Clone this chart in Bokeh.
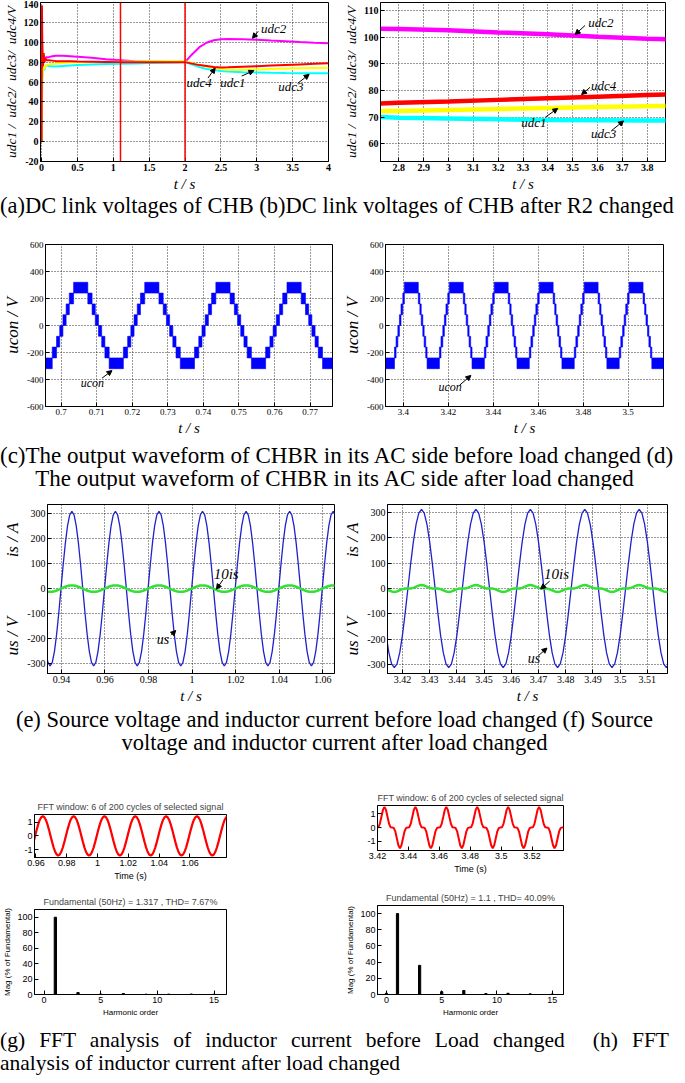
import numpy as np
from bokeh.plotting import figure
from bokeh.models import (Range1d, FixedTicker, CustomJSTickFormatter, Span, Label,
                          Arrow, NormalHead, Div, Spacer)
from bokeh.layouts import column, row
from bokeh.embed import file_html
from bokeh.resources import INLINE

# ---------------- data ----------------
# (a)/(b) DC link voltages
t_dc = [0, 0.005, 0.01, 0.02, 0.03, 0.04, 0.05, 0.07, 0.1, 0.15, 0.2, 0.3, 0.4, 0.5, 0.7, 0.9,
        1.1, 1.3, 1.5, 1.7, 1.9, 2.0, 2.1, 2.2, 2.3, 2.4, 2.5, 2.6, 2.8, 3.0, 3.2, 3.4, 3.6, 3.8, 4.0]
udc1 = [0, 40, 66, 72, 75, 73, 76, 77, 77.5, 78, 78.5, 79, 79.5, 79.8, 80, 80.2,
        80.5, 80.7, 80.9, 81, 81, 81, 79, 77, 75.5, 74, 73, 72.4, 72.3, 72.7, 73.1, 73.5, 73.8, 74.1, 74.4]
udc2 = [0, 60, 78, 80, 83, 80, 84, 85, 85, 86, 86.5, 86.5, 86, 85.5, 84.5, 83,
        82, 81, 80.5, 80.3, 80.2, 80, 88, 95, 99.5, 102, 103, 103.3, 103.1, 102.6, 101.8, 101.1, 100.2, 99.4, 98.9]
udc3 = [0, 40, 64, 70, 73, 72, 75, 77, 76, 75.5, 75.5, 76, 76.5, 77, 77.5, 78,
        78.3, 78.6, 79, 79.3, 79.6, 80, 77.5, 75, 73, 72, 71, 70.5, 69.8, 69.5, 69.2, 69.0, 68.9, 68.8, 68.7]
udc4 = [0, 137, 100, 76, 89, 80, 84, 82, 82, 81.5, 81, 81, 80.8, 80.6, 80.4, 80.2,
        80, 80, 80, 80, 80, 80, 78.5, 77, 76, 75, 74.6, 74.8, 75.4, 75.9, 76.5, 77.1, 77.7, 78.3, 78.8]
event_times = [1.1, 2.0]

# (c)/(d) CHBR AC-side voltage: staircase band (lower level of each band, band = one cell voltage)
cell_v = 80
c_edges = [0.6935, 0.6975, 0.6987, 0.6996,
           0.7005, 0.7014, 0.7023, 0.7035, 0.7075, 0.7087, 0.7096, 0.7105, 0.7114, 0.7123, 0.7135, 0.7175, 0.7187, 0.7196,
           0.7205, 0.7214, 0.7223, 0.7235, 0.7275, 0.7287, 0.7296, 0.7305, 0.7314, 0.7323, 0.7335, 0.7375, 0.7387, 0.7396,
           0.7405, 0.7414, 0.7423, 0.7435, 0.7475, 0.7487, 0.7496, 0.7505, 0.7514, 0.7523, 0.7535, 0.7575, 0.7587, 0.7596,
           0.7605, 0.7614, 0.7623, 0.7635, 0.7675, 0.7687, 0.7696, 0.7705, 0.7714, 0.7723, 0.7735, 0.7775]
c_levels = [-320, -240, -160, -80,
            0, 80, 160, 240, 160, 80, 0, -80, -160, -240, -320, -240, -160, -80,
            0, 80, 160, 240, 160, 80, 0, -80, -160, -240, -320, -240, -160, -80,
            0, 80, 160, 240, 160, 80, 0, -80, -160, -240, -320, -240, -160, -80,
            0, 80, 160, 240, 160, 80, 0, -80, -160, -240, -320]
d_edges = [3.3905,
           3.3960, 3.3967, 3.3975, 3.3982, 3.3989, 3.3997, 3.4004, 3.4066, 3.4073, 3.4079, 3.4086, 3.4092, 3.4099, 3.4105,
           3.4160, 3.4167, 3.4175, 3.4182, 3.4189, 3.4197, 3.4204, 3.4266, 3.4273, 3.4279, 3.4286, 3.4292, 3.4299, 3.4305,
           3.4360, 3.4367, 3.4375, 3.4382, 3.4389, 3.4397, 3.4404, 3.4466, 3.4473, 3.4479, 3.4486, 3.4492, 3.4499, 3.4505,
           3.4560, 3.4567, 3.4575, 3.4582, 3.4589, 3.4597, 3.4604, 3.4666, 3.4673, 3.4679, 3.4686, 3.4692, 3.4699, 3.4705,
           3.4760, 3.4767, 3.4775, 3.4782, 3.4789, 3.4797, 3.4804, 3.4866, 3.4873, 3.4879, 3.4886, 3.4892, 3.4899, 3.4905,
           3.4960, 3.4967, 3.4975, 3.4982, 3.4989, 3.4997, 3.5004, 3.5066, 3.5073, 3.5079, 3.5086, 3.5092, 3.5099, 3.5105,
           3.5160]
d_levels = [-320,
            -240, -160, -80, 0, 80, 160, 240, 160, 80, 0, -80, -160, -240, -320,
            -240, -160, -80, 0, 80, 160, 240, 160, 80, 0, -80, -160, -240, -320,
            -240, -160, -80, 0, 80, 160, 240, 160, 80, 0, -80, -160, -240, -320,
            -240, -160, -80, 0, 80, 160, 240, 160, 80, 0, -80, -160, -240, -320,
            -240, -160, -80, 0, 80, 160, 240, 160, 80, 0, -80, -160, -240, -320,
            -240, -160, -80, 0, 80, 160, 240, 160, 80, 0, -80, -160, -240, -320]

# (e)/(f) source voltage and 10x inductor current, sampled every 1 ms
sample_dt = 0.001
e_t0 = 0.9328
f_t0 = 3.4140
us_e = [-252, -296, -311, -296, -252, -183, -96, 0, 96, 183, 252, 296, 311, 296, 252, 183, 96, 0, -96, -183,
        -252, -296, -311, -296, -252, -183, -96, 0, 96, 183, 252, 296, 311, 296, 252, 183, 96, 0, -96, -183,
        -252, -296, -311, -296, -252, -183, -96, 0, 96, 183, 252, 296, 311, 296, 252, 183, 96, 0, -96, -183,
        -252, -296, -311, -296, -252, -183, -96, 0, 96, 183, 252, 296, 311, 296, 252, 183, 96, 0, -96, -183,
        -252, -296, -311, -296, -252, -183, -96, 0, 96, 183, 252, 296, 311, 296, 252, 183, 96, 0, -96, -183,
        -252, -296, -311, -296, -252, -183, -96, 0, 96, 183, 252, 296, 311, 296, 252, 183, 96, 0, -96, -183,
        -252, -296, -311, -296, -252, -183, -96, 0, 96, 183, 252, 296, 311, 296]
is10_e = [-10.5, -12.4, -13, -12.4, -10.5, -7.6, -4, 0, 4, 7.6, 10.5, 12.4, 13, 12.4, 10.5, 7.6, 4, 0, -4, -7.6,
          -10.5, -12.4, -13, -12.4, -10.5, -7.6, -4, 0, 4, 7.6, 10.5, 12.4, 13, 12.4, 10.5, 7.6, 4, 0, -4, -7.6,
          -10.5, -12.4, -13, -12.4, -10.5, -7.6, -4, 0, 4, 7.6, 10.5, 12.4, 13, 12.4, 10.5, 7.6, 4, 0, -4, -7.6,
          -10.5, -12.4, -13, -12.4, -10.5, -7.6, -4, 0, 4, 7.6, 10.5, 12.4, 13, 12.4, 10.5, 7.6, 4, 0, -4, -7.6,
          -10.5, -12.4, -13, -12.4, -10.5, -7.6, -4, 0, 4, 7.6, 10.5, 12.4, 13, 12.4, 10.5, 7.6, 4, 0, -4, -7.6,
          -10.5, -12.4, -13, -12.4, -10.5, -7.6, -4, 0, 4, 7.6, 10.5, 12.4, 13, 12.4, 10.5, 7.6, 4, 0, -4, -7.6,
          -10.5, -12.4, -13, -12.4, -10.5, -7.6, -4, 0, 4, 7.6, 10.5, 12.4, 13, 12.4]
us_f = [-183, -252, -296, -311, -296, -252, -183, -96, 0, 96, 183, 252, 296, 311, 296, 252, 183, 96, 0, -96,
        -183, -252, -296, -311, -296, -252, -183, -96, 0, 96, 183, 252, 296, 311, 296, 252, 183, 96, 0, -96,
        -183, -252, -296, -311, -296, -252, -183, -96, 0, 96, 183, 252, 296, 311, 296, 252, 183, 96, 0, -96,
        -183, -252, -296, -311, -296, -252, -183, -96, 0, 96, 183, 252, 296, 311, 296, 252, 183, 96, 0, -96,
        -183, -252, -296, -311, -296, -252, -183, -96, 0, 96, 183, 252, 296, 311, 296, 252, 183, 96, 0, -96,
        -183, -252, -296, -311, -296]
is10_f = [-2.5, -7, -11.6, -13.6, -11.6, -7, -2.5, -0.2, 0, 0.2, 2.5, 7, 11.6, 13.6, 11.6, 7, 2.5, 0.2, 0, -0.2,
          -2.5, -7, -11.6, -13.6, -11.6, -7, -2.5, -0.2, 0, 0.2, 2.5, 7, 11.6, 13.6, 11.6, 7, 2.5, 0.2, 0, -0.2,
          -2.5, -7, -11.6, -13.6, -11.6, -7, -2.5, -0.2, 0, 0.2, 2.5, 7, 11.6, 13.6, 11.6, 7, 2.5, 0.2, 0, -0.2,
          -2.5, -7, -11.6, -13.6, -11.6, -7, -2.5, -0.2, 0, 0.2, 2.5, 7, 11.6, 13.6, 11.6, 7, 2.5, 0.2, 0, -0.2,
          -2.5, -7, -11.6, -13.6, -11.6, -7, -2.5, -0.2, 0, 0.2, 2.5, 7, 11.6, 13.6, 11.6, 7, 2.5, 0.2, 0, -0.2,
          -2.5, -7, -11.6, -13.6, -11.6]

# (g)/(h) FFT window signals and harmonic spectra
g_t0 = 0.9585
h_t0 = 3.4185
i_g = [-0.44, 0, 0.44, 0.84, 1.16, 1.36, 1.43, 1.36, 1.16, 0.84, 0.44, 0, -0.44, -0.84, -1.16, -1.36, -1.43, -1.36, -1.16, -0.84,
       -0.44, 0, 0.44, 0.84, 1.16, 1.36, 1.43, 1.36, 1.16, 0.84, 0.44, 0, -0.44, -0.84, -1.16, -1.36, -1.43, -1.36, -1.16, -0.84,
       -0.44, 0, 0.44, 0.84, 1.16, 1.36, 1.43, 1.36, 1.16, 0.84, 0.44, 0, -0.44, -0.84, -1.16, -1.36, -1.43, -1.36, -1.16, -0.84,
       -0.44, 0, 0.44, 0.84, 1.16, 1.36, 1.43, 1.36, 1.16, 0.84, 0.44, 0, -0.44, -0.84, -1.16, -1.36, -1.43, -1.36, -1.16, -0.84,
       -0.44, 0, 0.44, 0.84, 1.16, 1.36, 1.43, 1.36, 1.16, 0.84, 0.44, 0, -0.44, -0.84, -1.16, -1.36, -1.43, -1.36, -1.16, -0.84,
       -0.44, 0, 0.44, 0.84, 1.16, 1.36, 1.43, 1.36, 1.16, 0.84, 0.44, 0, -0.44, -0.84, -1.16, -1.36, -1.43, -1.36, -1.16, -0.84,
       -0.44, 0, 0.44, 0.84, 1.16, 1.36, 1.43]
i_h = [-0.02, 0, 0.02, 0.27, 0.77, 1.28, 1.5, 1.28, 0.77, 0.27, 0.02, 0, -0.02, -0.27, -0.77, -1.28, -1.5, -1.28, -0.77, -0.27,
       -0.02, 0, 0.02, 0.27, 0.77, 1.28, 1.5, 1.28, 0.77, 0.27, 0.02, 0, -0.02, -0.27, -0.77, -1.28, -1.5, -1.28, -0.77, -0.27,
       -0.02, 0, 0.02, 0.27, 0.77, 1.28, 1.5, 1.28, 0.77, 0.27, 0.02, 0, -0.02, -0.27, -0.77, -1.28, -1.5, -1.28, -0.77, -0.27,
       -0.02, 0, 0.02, 0.27, 0.77, 1.28, 1.5, 1.28, 0.77, 0.27, 0.02, 0, -0.02, -0.27, -0.77, -1.28, -1.5, -1.28, -0.77, -0.27,
       -0.02, 0, 0.02, 0.27, 0.77, 1.28, 1.5, 1.28, 0.77, 0.27, 0.02, 0, -0.02, -0.27, -0.77, -1.28, -1.5, -1.28, -0.77, -0.27,
       -0.02, 0, 0.02, 0.27, 0.77, 1.28, 1.5, 1.28, 0.77, 0.27, 0.02, 0, -0.02, -0.27, -0.77, -1.28, -1.5, -1.28, -0.77, -0.27,
       -0.02, 0, 0.02]
g_order = [1, 3, 5, 7, 9, 11, 13, 15]
g_mag = [100, 2.5, 0.6, 1.2, 0.4, 0.5, 0.6, 0.3]
h_order = [0, 1, 3, 5, 7, 9, 11, 13, 15]
h_mag = [1.5, 100, 36, 3.5, 5, 1.2, 1.5, 0.8, 0.6]

# tick labels
a_xt = [0, 0.5, 1, 1.5, 2, 2.5, 3, 3.5, 4]
a_yt = [-20, 0, 20, 40, 60, 80, 100, 120, 140]
b_xt = [2.8, 2.9, 3, 3.1, 3.2, 3.3, 3.4, 3.5, 3.6, 3.7, 3.8]
b_yt = [60, 70, 80, 90, 100, 110]
c_xt = [0.7, 0.71, 0.72, 0.73, 0.74, 0.75, 0.76, 0.77]
d_xt = [3.4, 3.42, 3.44, 3.46, 3.48, 3.5]
cd_yt = [-600, -400, -200, 0, 200, 400, 600]
e_xt = [0.94, 0.96, 0.98, 1, 1.02, 1.04, 1.06]
f_xt = [3.42, 3.43, 3.44, 3.45, 3.46, 3.47, 3.48, 3.49, 3.5, 3.51]
ef_yt = [-300, -200, -100, 0, 100, 200, 300]
g_xt = [0.96, 0.98, 1, 1.02, 1.04, 1.06]
h_xt = [3.42, 3.44, 3.46, 3.48, 3.5, 3.52]
gh_yt = [-1, 0, 1]
sp_xt = [0, 5, 10, 15]
sp_yt = [0, 20, 40, 60, 80, 100]

# ---------------- helpers ----------------
SERIF = "Liberation Serif"
SANS = "Liberation Sans"
NB = "\u00a0"


def fmt():
    return CustomJSTickFormatter(code="return String(Number(tick.toFixed(6)));")


def mk(width, height, xr, yr, xt, yt, bl, br, bt, bb, font=SERIF, tsize="10px",
       tstyle="normal", grid=True, title=None):
    kw = dict(width=width, height=height, x_range=Range1d(*xr), y_range=Range1d(*yr),
              output_backend="svg", toolbar_location=None,
              min_border_left=bl, min_border_right=br, min_border_top=bt, min_border_bottom=bb)
    if title:
        kw["title"] = title
    p = figure(**kw)
    p.outline_line_color = "black"
    p.outline_line_width = 1
    p.outline_line_alpha = 1
    p.background_fill_color = "white"
    p.border_fill_color = "white"
    for ax, ticks in ((p.xaxis[0], xt), (p.yaxis[0], yt)):
        ax.ticker = FixedTicker(ticks=ticks)
        ax.formatter = fmt()
        ax.major_tick_in = 4
        ax.major_tick_out = 0
        ax.minor_tick_line_color = None
        ax.axis_line_color = "black"
        ax.major_label_text_font = font
        ax.major_label_text_font_size = tsize
        ax.major_label_text_font_style = tstyle
        ax.major_label_text_color = "black"
        ax.major_label_standoff = 2
        ax.axis_label_standoff = 2
        ax.axis_label_text_font = font
        ax.axis_label_text_font_style = "italic"
        ax.axis_label_text_font_size = "15px"
        ax.axis_label_text_color = "black"
    if grid:
        p.grid.grid_line_color = "black"
        p.grid.grid_line_dash = "1 2"
        p.grid.grid_line_alpha = 0.8
    else:
        p.grid.visible = False
    if title:
        p.title.align = "center"
        p.title.text_font = SANS
        p.title.text_font_size = "9px"
        p.title.text_font_style = "normal"
        p.title.standoff = 6
    return p


def note(p, x, y, text, x0, y0, x1, y1, size="13px", style="italic"):
    p.add_layout(Label(x=x, y=y, text=text, text_font=SERIF, text_font_style=style,
                       text_font_size=size, text_baseline="middle", text_align="left",
                       text_color="black"))
    p.add_layout(Arrow(end=NormalHead(size=5, fill_color="black", line_color="black"),
                       x_start=x0, y_start=y0, x_end=x1, y_end=y1,
                       line_color="black", line_width=1))


UDC_LABEL = ("udc1" + NB + "/" + NB * 2 + "udc2/" + NB * 2 + "udc3/" + NB * 2 + "udc4/V")
UI_LABEL = "us / V" + NB * 14 + "is / A"

# ---------------- (a) ----------------
fa = mk(340, 194, (-0.015, 4.0), (-20, 140), a_xt, a_yt, 35, 12, 2, 26, tstyle="bold")
fa.xaxis.axis_label = "t / s"
fa.yaxis.axis_label = UDC_LABEL
fa.yaxis.axis_label_text_font_size = "13.5px"
fa.line(t_dc, udc2, color="#FF00FF", line_width=2)
fa.line(t_dc, udc3, color="#00FFFF", line_width=2)
fa.line(t_dc, udc1, color="#FFFF00", line_width=2)
fa.line(t_dc, udc4, color="#FF0000", line_width=2)
for tm in event_times:
    fa.add_layout(Span(location=tm, dimension="height", line_color="#FF0000", line_width=1.5,
                       level="overlay"))
note(fa, 3.06, 113.8, "udc2", 3.02, 111, 2.94, 104)
note(fa, 2.02, 60, "udc4", 2.32, 64, 2.42, 74)
note(fa, 2.49, 59, "udc1", 2.79, 66, 2.96, 71.5)
note(fa, 3.3, 55.5, "udc3", 3.57, 58.6, 3.73, 67.7)

# ---------------- (b) ----------------
fb = mk(329, 194, (2.726, 3.874), (53.4, 113), b_xt, b_yt, 32, 4, 2, 26, tstyle="bold")
fb.xaxis.axis_label = "t / s"
fb.yaxis.axis_label = UDC_LABEL
fb.yaxis.axis_label_text_font_size = "13.5px"
fb.line(t_dc, udc2, color="#FF00FF", line_width=4.5)
fb.line(t_dc, udc4, color="#FF0000", line_width=4.5)
fb.line(t_dc, udc1, color="#FFFF00", line_width=4.5)
fb.line(t_dc, udc3, color="#00FFFF", line_width=4.5)
note(fb, 3.563, 105.4, "udc2", 3.55, 104.4, 3.51, 101)
note(fb, 3.574, 82, "udc4", 3.57, 81.2, 3.536, 78.5)
note(fb, 3.293, 68.1, "udc1", 3.39, 70, 3.44, 73.3)
note(fb, 3.574, 63.8, "udc3", 3.657, 65, 3.705, 68.6)

# ---------------- (c) ----------------
fc = mk(340, 211, (0.6956, 0.7763), (-600, 600), c_xt, cd_yt, 38, 8, 16, 22, tsize="9px")
fc.xaxis.axis_label = "t / s"
fc.yaxis.axis_label = "ucon / V"
fc.yaxis.axis_label_text_font_size = "17px"
fc.quad(left=c_edges[:-1], right=c_edges[1:], bottom=c_levels,
        top=[v + cell_v for v in c_levels], fill_color="#0000FF", line_color="#0000FF", line_width=0.6)
note(fc, 0.7055, -424, "ucon", 0.7115, -390, 0.7143, -334, size="12px")

# ---------------- (d) ----------------
fd = mk(329, 211, (3.392, 3.5157), (-600, 600), d_xt, cd_yt, 34, 6, 11, 33, tsize="9px")
fd.xaxis.axis_label = "t / s"
fd.yaxis.axis_label = "ucon / V"
fd.yaxis.axis_label_text_font_size = "17px"
fd.quad(left=d_edges[:-1], right=d_edges[1:], bottom=d_levels,
        top=[v + cell_v for v in d_levels], fill_color="#0000FF", line_color="#0000FF", line_width=0.6)
note(fd, 3.4156, -456, "ucon", 3.425, -442, 3.43, -370, size="12px")

# ---------------- (e) ----------------
t_e = np.round(e_t0 + sample_dt * np.arange(len(us_e)), 4)
fe = mk(340, 217, (0.9336, 1.0654), (-341, 338), e_xt, ef_yt, 38, 6, 11, 26)
fe.xaxis.axis_label = "t / s"
fe.yaxis.axis_label = UI_LABEL
fe.yaxis.axis_label_text_font_size = "17px"
fe.line(t_e, us_e, color="#2020CC", line_width=1.3)
fe.line(t_e, is10_e, color="#33E033", line_width=2.5)
note(fe, 1.0099, 59, "10is", 1.0142, 36, 1.0112, -2, size="15px")
note(fe, 0.9838, -206, "us", 0.9904, -187, 0.9925, -168, size="14px")

# ---------------- (f) ----------------
t_f = np.round(f_t0 + sample_dt * np.arange(len(us_f)), 4)
ff = mk(329, 217, (3.4145, 3.5174), (-334, 330), f_xt, ef_yt, 38, 2, 15, 26)
ff.xaxis.axis_label = "t / s"
ff.yaxis.axis_label = UI_LABEL
ff.yaxis.axis_label_text_font_size = "17px"
ff.line(t_f, us_f, color="#2020CC", line_width=1.3)
ff.line(t_f, is10_f, color="#33E033", line_width=2.5)
note(ff, 3.472, 55, "10is", 3.4741, 29, 3.4708, -2, size="15px")
note(ff, 3.466, -274, "us", 3.47, -264, 3.4731, -234, size="14px")

# ---------------- (g) ----------------
FFT_TITLE = "FFT window: 6 of 200 cycles of selected signal"
t_g = np.round(g_t0 + sample_dt * np.arange(len(i_g)), 4)
g1 = mk(340, 95, (0.9591, 1.0837), (-1.58, 1.56), g_xt, gh_yt, 24, 114, 0, 34,
        font=SANS, tsize="9px", grid=False, title=FFT_TITLE)
g1.xaxis.axis_label = "Time (s)"
g1.xaxis.axis_label_text_font_style = "normal"
g1.xaxis.axis_label_text_font_size = "9px"
g1.line(t_g, i_g, color="#FF0000", line_width=2.2)

g2 = mk(340, 137, (-0.84, 16.1), (0, 110), sp_xt, sp_yt, 28, 112, 0, 34,
        font=SANS, tsize="9px", grid=False, title="Fundamental (50Hz) = 1.317 , THD= 7.67%")
g2.xaxis.axis_label = "Harmonic order"
g2.yaxis.axis_label = "Mag (% of Fundamental)"
for ax in (g2.xaxis[0], g2.yaxis[0]):
    ax.axis_label_text_font_style = "normal"
    ax.axis_label_text_font_size = "8px"
g2.vbar(x=g_order, top=g_mag, width=0.2, fill_color="black", line_color="black")

# ---------------- (h) ----------------
t_h = np.round(h_t0 + sample_dt * np.arange(len(i_h)), 4)
h1 = mk(329, 100, (3.42, 3.5403), (-1.66, 1.6), h_xt, gh_yt, 37, 106, 0, 37,
        font=SANS, tsize="9px", grid=False, title=FFT_TITLE)
h1.xaxis.axis_label = "Time (s)"
h1.xaxis.axis_label_text_font_style = "normal"
h1.xaxis.axis_label_text_font_size = "9px"
h1.line(t_h, i_h, color="#FF0000", line_width=2)

h2 = mk(329, 141, (-0.81, 16.02), (0, 110), sp_xt, sp_yt, 35, 106, 0, 34,
        font=SANS, tsize="9px", grid=False, title="Fundamental (50Hz) = 1.1 , THD= 40.09%")
h2.xaxis.axis_label = "Harmonic order"
h2.yaxis.axis_label = "Mag (% of Fundamental)"
for ax in (h2.xaxis[0], h2.yaxis[0]):
    ax.axis_label_text_font_style = "normal"
    ax.axis_label_text_font_size = "8px"
h2.vbar(x=h_order, top=h_mag, width=0.2, fill_color="black", line_color="black")

# ---------------- captions ----------------
CSS = "font-family:'Liberation Serif','Times New Roman',serif;color:#000;margin:0;width:669px;"


def cap(html, height, extra):
    return Div(text=f'<div style="{CSS}{extra}">{html}</div>', width=669, height=height,
               margin=(0, 0, 0, 0))


cap1 = cap("(a)DC link voltages of CHB (b)DC link voltages of CHB after R2 changed", 34,
           "font-size:22.5px;line-height:23px;white-space:nowrap;")
cap2 = cap("(c)The output waveform of CHBR in its AC side before load changed (d)<br>"
           "The output waveform of CHBR in its AC side after load changed", 50,
           "font-size:23px;line-height:23px;text-align:center;padding-top:5px;white-space:nowrap;")
cap3 = cap("(e) Source voltage and inductor current before load changed (f) Source<br>"
           "voltage and inductor current after load changed", 51,
           "font-size:22.5px;line-height:23px;text-align:center;padding-top:2px;white-space:nowrap;")
cap4 = cap('<div style="width:669px;text-align:justify;text-align-last:justify;">'
           '(g) FFT analysis of inductor current before Load changed&nbsp; (h) FFT</div>'
           '<div style="width:669px;text-align:left;">analysis of inductor current after load changed</div>', 36,
           "font-size:21.5px;line-height:22.5px;padding-top:1px;")

layout = column(row(fa, fb), cap1, row(fc, fd), cap2, row(fe, ff), cap3,
                row(column(Spacer(width=340, height=39), g1, g2),
                    column(Spacer(width=329, height=30), h1, h2)),
                cap4)

open("out.html", "w").write(file_html(layout, INLINE, "CHB figure"))
